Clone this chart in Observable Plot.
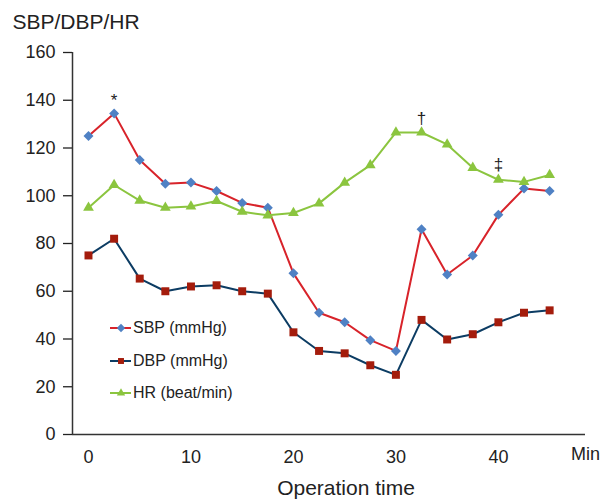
<!DOCTYPE html>
<html><head><meta charset="utf-8">
<script src="https://cdn.jsdelivr.net/npm/d3@7"></script>
<script src="https://cdn.jsdelivr.net/npm/@observablehq/plot@0.6"></script>
<style>
body{margin:0;background:#fff;font-family:"Liberation Sans",Arial,sans-serif;}
#wrap{position:relative;width:603px;height:500px;}
#legend{position:absolute;left:108px;top:312px;font-size:16px;color:#222;}
#legend .item{height:32.5px;display:flex;align-items:center;}
#legend svg{margin-right:1px;}
</style></head>
<body><div id="wrap"><div id="legend"></div></div>
<script>
const times = [0,2.5,5,7.5,10,12.5,15,17.5,20,22.5,25,27.5,30,32.5,35,37.5,40,42.5,45];
const sbp = [125,134.5,115,105,105.5,102,97,95,67.5,51,47,39.5,35,86,67,75,92,103,102];
const dbp = [75,82,65.3,60,62,62.5,60,59,42.8,35,34,29,25,48,39.8,42,47,51,52];
const hr  = [95,104.5,98,95,95.5,97.8,93.3,91.8,92.8,96.8,105.5,112.8,126.5,126.5,121.5,111.7,106.7,105.8,108.7];
const seriesNames = ["SBP (mmHg)","DBP (mmHg)","HR (beat/min)"];
const marks = [{t:2.5,v:140,s:"*"},{t:32.5,v:132.5,s:"†"},{t:40,v:113,s:"‡"}];
const xTicks = [0,10,20,30,40];
const yTicks = [0,20,40,60,80,100,120,140,160];

const style = [
  {line:"#d8232a", fill:"#4f81c4", symbol:"diamond2", r:4.5},
  {line:"#0c3c63", fill:"#a41c0c", symbol:"square", r:4.5},
  {line:"#8bc53f", fill:"#8bc53f", symbol:"triangle", r:4}
];
const vals = [sbp,dbp,hr];
const data = vals.map((arr,i)=>times.map((t,j)=>({t, v:arr[j], s:i})));
const xDom = [-1.56, 48.5];

const chart = Plot.plot({
  width:603, height:500,
  marginLeft:72, marginRight:18, marginTop:52, marginBottom:66,
  style:{fontFamily:'"Liberation Sans",Arial,sans-serif', fontSize:"18px", color:"#222"},
  x:{domain:xDom, axis:null},
  y:{domain:[0,160], axis:null},
  marks:[
    Plot.axisY({ticks:yTicks, tickSize:9, tickPadding:8, fontSize:18, label:null, stroke:"#222", strokeWidth:1.3}),
    Plot.axisX({ticks:xTicks, tickSize:0, tickPadding:16, fontSize:18, label:null}),
    Plot.ruleY([0], {stroke:"#333", strokeWidth:1.5}),
    Plot.ruleX([xDom[0]], {y1:0, y2:160, stroke:"#333", strokeWidth:1.5}),
    ...data.map((d,i)=>Plot.line(d,{x:"t",y:"v",stroke:style[i].line,strokeWidth:2})),
    ...data.map((d,i)=>Plot.dot(d,{x:"t",y:"v",symbol:()=>style[i].symbol,r:style[i].r,fill:style[i].fill,stroke:"none"})),
    Plot.text(marks,{x:"t",y:"v",text:"s",fontSize:17,fill:"#222"}),
    Plot.text(["SBP/DBP/HR"],{frameAnchor:"top-left",dx:-60,dy:-38,fontSize:21,textAnchor:"start",fill:"#222"}),
    Plot.text(["Min"],{frameAnchor:"bottom-right",dx:0,dy:25,fontSize:18,textAnchor:"middle",fill:"#222"}),
    Plot.text(["Operation time"],{frameAnchor:"bottom",dx:17,dy:60,fontSize:21,fill:"#222"})
  ]
});
document.getElementById("wrap").prepend(chart);

const leg = d3.select("#legend");
seriesNames.forEach((name,i)=>{
  const it = leg.append("div").attr("class","item");
  const sv = it.append("svg").attr("width",24).attr("height",14);
  sv.append("line").attr("x1",2).attr("x2",23).attr("y1",7).attr("y2",7).attr("stroke",style[i].line).attr("stroke-width",2);
  const sym = {diamond2:d3.symbolDiamond2, square:d3.symbolSquare2, triangle:d3.symbolTriangle}[style[i].symbol];
  const size = style[i].symbol==="triangle"?30:45;
  sv.append("path").attr("d",d3.symbol(sym,size)()).attr("transform","translate(13,7)").attr("fill",style[i].fill);
  it.append("span").text(name);
});
</script></body></html>
